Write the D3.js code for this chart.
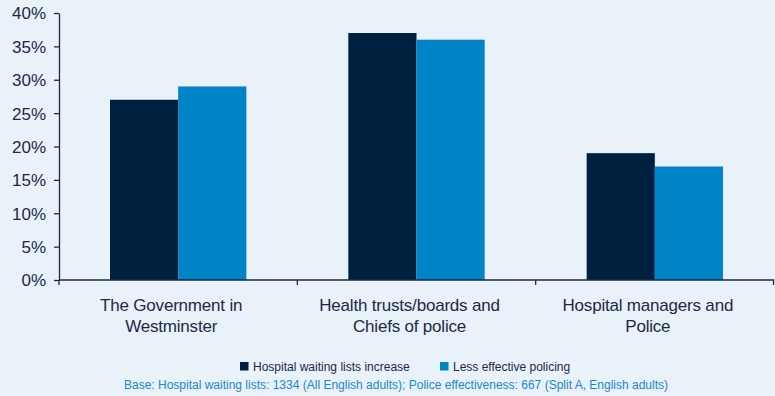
<!DOCTYPE html>
<html>
<head>
<meta charset="utf-8">
<script src="https://cdn.jsdelivr.net/npm/d3@7"></script>
<style>
  html, body { margin: 0; padding: 0; background: #e9f1f9; }
  svg { display: block; font-family: "Liberation Sans", Arial, sans-serif; }
</style>
</head>
<body>
<svg id="chart" width="775" height="396"></svg>
<script>
// Share of respondents by who they hold responsible
const categories = [
  ["The Government in", "Westminster"],
  ["Health trusts/boards and", "Chiefs of police"],
  ["Hospital managers and", "Police"]
];
const seriesNames = ["Hospital waiting lists increase", "Less effective policing"];
const hospitalValues = [27, 37, 19];
const policingValues = [29, 36, 17];
const yTicks = [0, 5, 10, 15, 20, 25, 30, 35, 40];
const footnote = "Base: Hospital waiting lists: 1334 (All English adults); Police effectiveness: 667 (Split A, English adults)";

const colors = ["#00203f", "#0083c7"];
const textColor = "#1b2a47";

const svg = d3.select("#chart");
const margin = { top: 13, right: 1, bottom: 116, left: 59 };
const width = 775 - margin.left - margin.right;
const height = 396 - margin.top - margin.bottom;

const g = svg.append("g").attr("transform", `translate(${margin.left},${margin.top})`);

const x0 = d3.scaleBand().domain(d3.range(categories.length)).range([0, width]).paddingInner(0).paddingOuter(0);
const x1 = d3.scaleBand().domain(d3.range(seriesNames.length)).range([51, x0.bandwidth() - 51]).padding(0);
const y = d3.scaleLinear().domain([0, 40]).range([height, 0]);

const data = categories.map((c, i) => [hospitalValues[i], policingValues[i]]);

// bars
const groups = g.selectAll(".grp").data(data).join("g")
  .attr("class", "grp")
  .attr("transform", (d, i) => `translate(${x0(i)},0)`);
groups.selectAll("rect").data(d => d).join("rect")
  .attr("x", (d, j) => x1(j))
  .attr("width", x1.bandwidth())
  .attr("y", d => y(d))
  .attr("height", d => height - y(d))
  .attr("fill", (d, j) => colors[j]);

// y axis
const yAxis = g.append("g")
  .call(d3.axisLeft(y).tickValues(yTicks).tickFormat(d => d + "%").tickSize(5).tickSizeOuter(0));
yAxis.select(".domain").attr("stroke", textColor).attr("stroke-width", 1.3);
yAxis.selectAll(".tick line").attr("stroke", textColor).attr("stroke-width", 1.3);
yAxis.selectAll(".tick text")
  .attr("fill", textColor).attr("font-size", 17).attr("x", -13).attr("dy", "0.35em")
  .attr("font-family", "'Liberation Sans', Arial, sans-serif");

// x axis
const xAxis = g.append("g").attr("transform", `translate(0,${height})`);
xAxis.append("line").attr("x1", 0).attr("x2", width).attr("y1", 0).attr("y2", 0)
  .attr("stroke", textColor).attr("stroke-width", 1.3);
xAxis.selectAll(".xt").data(d3.range(categories.length + 1)).join("line")
  .attr("class", "xt")
  .attr("x1", i => i === categories.length ? width - 0.5 : x0(i))
  .attr("x2", i => i === categories.length ? width - 0.5 : x0(i))
  .attr("y1", 0).attr("y2", 5)
  .attr("stroke", textColor).attr("stroke-width", 1.3);

// category labels
const catLabels = xAxis.selectAll(".cat").data(categories).join("text")
  .attr("class", "cat")
  .attr("x", (d, i) => x0(i) + x0.bandwidth() / 2 - 7)
  .attr("y", 31)
  .attr("text-anchor", "middle")
  .attr("fill", textColor)
  .attr("font-size", 17)
  .attr("letter-spacing", -0.2);
catLabels.selectAll("tspan").data(d => d).join("tspan")
  .attr("x", function () { return d3.select(this.parentNode).attr("x"); })
  .attr("dy", (d, k) => k === 0 ? 0 : 21)
  .text(d => d);

// legend
const legendPos = [240, 440];
const legend = svg.append("g");
const items = legend.selectAll("g").data(seriesNames).join("g")
  .attr("transform", (d, i) => `translate(${legendPos[i]},362)`);
items.append("rect").attr("width", 8.5).attr("height", 8.5).attr("fill", (d, i) => colors[i]);
items.append("text").attr("x", 13).attr("y", 8.5).attr("font-size", 12)
  .attr("fill", textColor).text(d => d);

// footnote
svg.append("text")
  .attr("x", 396).attr("y", 389)
  .attr("text-anchor", "middle")
  .attr("font-size", 12)
  .attr("fill", "#1a88cc")
  .text(footnote);
</script>
</body>
</html>
